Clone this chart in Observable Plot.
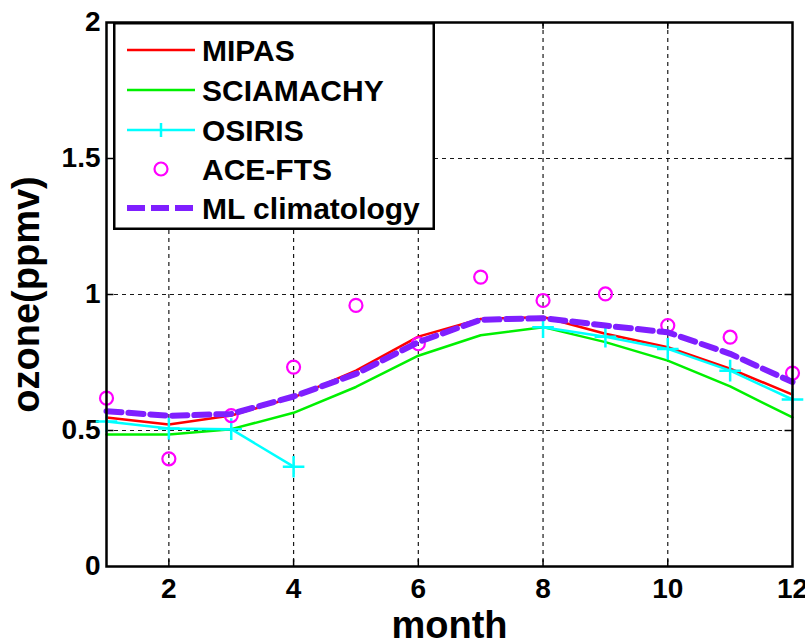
<!DOCTYPE html>
<html>
<head>
<meta charset="utf-8">
<script src="https://cdn.jsdelivr.net/npm/d3@7"></script>
<script src="https://cdn.jsdelivr.net/npm/@observablehq/plot@0.6"></script>
<style>
  html, body { margin: 0; padding: 0; background: #fff; }
  #wrap { position: relative; width: 805px; height: 644px; overflow: hidden; }
  #legend { position: absolute; left: 113px; top: 22px; }
</style>
</head>
<body>
<div id="wrap"></div>
<script>
const months = [1, 2, 3, 4, 5, 6, 7, 8, 9, 10, 11, 12];
const mipas     = [0.548, 0.522, 0.555, 0.622, 0.720, 0.845, 0.910, 0.917, 0.856, 0.806, 0.727, 0.632];
const sciamachy = [0.485, 0.485, 0.505, 0.565, 0.660, 0.775, 0.850, 0.880, 0.825, 0.757, 0.662, 0.548];
const osiris    = [0.533, 0.507, 0.505, 0.367, null, null, null, 0.880, 0.845, 0.800, 0.720, 0.614];
const aceFts    = [0.619, 0.396, 0.555, 0.733, 0.960, 0.819, 1.064, 0.978, 1.002, 0.886, 0.843, 0.711];
const mlClim    = [0.571, 0.554, 0.561, 0.625, 0.708, 0.825, 0.907, 0.913, 0.886, 0.861, 0.782, 0.678];

const xTicks = [2, 4, 6, 8, 10, 12];
const yTicks = [0, 0.5, 1, 1.5, 2];
const xGrid = [2, 4, 6, 8, 10];
const yGrid = [0.5, 1, 1.5];

const seriesNames = ["MIPAS", "SCIAMACHY", "OSIRIS", "ACE-FTS", "ML climatology"];
const colors = { "MIPAS": "#ff0000", "SCIAMACHY": "#00f000", "OSIRIS": "#00ffff", "ACE-FTS": "#ff00ff", "ML climatology": "#7f1fff" };

const rows = (vals) => months.map((m, i) => ({ month: m, value: vals[i] }));
const dMipas = rows(mipas), dScia = rows(sciamachy), dOsiris = rows(osiris), dAce = rows(aceFts), dMl = rows(mlClim);

const FONT = "'Liberation Sans', Arial, sans-serif";

const chart = Plot.plot({
  width: 805,
  height: 644,
  marginLeft: 106,
  marginRight: 13,
  marginTop: 22,
  marginBottom: 78,
  style: { fontFamily: FONT, fontSize: "28px", fontWeight: "bold", color: "black", background: "white", overflow: "visible" },
  x: { domain: [1, 12] },
  y: { domain: [0, 2] },
  marks: [
    Plot.gridX(xGrid, { stroke: "black", strokeOpacity: 0.9, strokeWidth: 1.2, strokeDasharray: "4,4" }),
    Plot.gridY(yGrid, { stroke: "black", strokeOpacity: 0.9, strokeWidth: 1.2, strokeDasharray: "4,4" }),
    Plot.ruleX(xGrid, { y1: 0, y2: 0.025, stroke: "black", strokeWidth: 1.5 }),
    Plot.ruleX(xGrid, { y1: 2, y2: 1.975, stroke: "black", strokeWidth: 1.5 }),
    Plot.ruleY(yGrid, { x1: 1, x2: 1.12, stroke: "black", strokeWidth: 1.5 }),
    Plot.ruleY(yGrid, { x1: 12, x2: 11.88, stroke: "black", strokeWidth: 1.5 }),
    Plot.axisX(xTicks, { tickSize: 0, tickPadding: 12, label: null, fontSize: 28, fontWeight: "bold" }),
    Plot.axisY(yTicks, { tickSize: 0, tickPadding: 6, label: null, tickFormat: d => String(d), fontSize: 28, fontWeight: "bold" }),
    Plot.text(["month"], { frameAnchor: "bottom", lineAnchor: "bottom", textAnchor: "middle", dy: 71, fontSize: 38, fontWeight: "bold", fill: "black" }),
    Plot.text(["ozone(ppmv)"], { frameAnchor: "left", textAnchor: "middle", lineAnchor: "middle", dx: -80, rotate: -90, fontSize: 38, fontWeight: "bold", fill: "black" }),
    Plot.line(dMipas, { x: "month", y: "value", stroke: colors["MIPAS"], strokeWidth: 2.5 }),
    Plot.line(dScia, { x: "month", y: "value", stroke: colors["SCIAMACHY"], strokeWidth: 2.5 }),
    Plot.line(dOsiris, { x: "month", y: "value", stroke: colors["OSIRIS"], strokeWidth: 2.5 }),
    Plot.dot(dOsiris.filter(d => d.value != null), { x: "month", y: "value", symbol: "plus", r: 7, stroke: colors["OSIRIS"], strokeWidth: 2.5 }),
    Plot.dot(dAce, { x: "month", y: "value", r: 6.5, stroke: colors["ACE-FTS"], strokeWidth: 2.2, fill: "none" }),
    Plot.line(dMl, { x: "month", y: "value", stroke: colors["ML climatology"], strokeWidth: 6, strokeDasharray: "15,7" }),
    Plot.frame({ stroke: "black", strokeWidth: 2.5 })
  ]
});
document.getElementById("wrap").appendChild(chart);

// Legend (drawn over the chart, like MATLAB's in-axes legend)
const lw = 322, lh = 208;
const leg = d3.create("svg").attr("id", "legend").attr("width", lw).attr("height", lh)
  .style("font-family", FONT).style("font-weight", "bold").style("font-size", "30px");
leg.append("rect").attr("x", 1.25).attr("y", 1.25).attr("width", lw - 2.5).attr("height", lh - 2.5)
  .attr("fill", "white").attr("stroke", "black").attr("stroke-width", 2.5);
const rowY = [28, 68, 108, 147, 186];
seriesNames.forEach((name, i) => {
  const y = rowY[i];
  const g = leg.append("g");
  if (name === "ACE-FTS") {
    g.append("circle").attr("cx", 48).attr("cy", y).attr("r", 6.5).attr("fill", "none")
      .attr("stroke", colors[name]).attr("stroke-width", 2.2);
  } else {
    const ln = g.append("line").attr("x1", 14).attr("x2", 82).attr("y1", y).attr("y2", y)
      .attr("stroke", colors[name]).attr("stroke-width", name === "ML climatology" ? 6 : 2.5);
    if (name === "ML climatology") ln.attr("stroke-dasharray", "18,6");
    if (name === "OSIRIS") {
      g.append("line").attr("x1", 48).attr("x2", 48).attr("y1", y - 7).attr("y2", y + 7)
        .attr("stroke", colors[name]).attr("stroke-width", 2.5);
    }
  }
  g.append("text").attr("x", 89).attr("y", y).attr("dy", "0.36em").attr("fill", "black").text(name);
});
document.getElementById("wrap").appendChild(leg.node());
</script>
</body>
</html>
